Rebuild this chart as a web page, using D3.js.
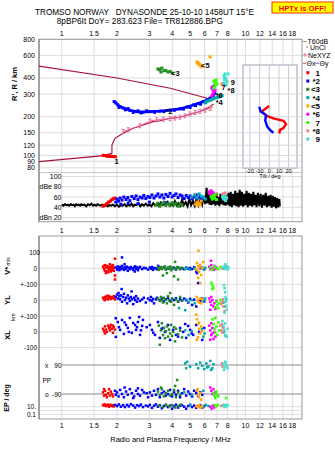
<!DOCTYPE html>
<html><head><meta charset="utf-8">
<script src="https://cdn.jsdelivr.net/npm/d3@7"></script>
<style>body{margin:0;background:#fff}svg{display:block}text{font-family:"Liberation Sans",Arial,sans-serif;fill:#000}</style>
</head><body><svg id="c" width="335" height="451"></svg>
<script>
// ---------- DATA ----------
const title1 = "TROMSO NORWAY   DYNASONDE 25-10-10 1458UT 15°E";
const title2 = "8pBP6It DoY= 283.623 File= TR812886.BPG";
const freqGrid = [1,1.5,2,3,4,5,6,7,8,9,10,12,14,16,18];
const freqLabelsTop = [1,1.5,2,3,4,5,6,7,8,10,12,14,16,18];
const freqLabelsMid = [1,1.5,2,3,4,5,6,7,8,9,10,12,14,16,18];
const rTicks = [800,600,400,300,200,150,120,100,90,80];
const dbTicks = [100,80,60,40,20];
const tiltTicks = [-20,-10,0,10,20];
const modeNames = ["1","*2","<3","*4","<5","*6","7","*8","9"];
const modeColors = ["#ff0000","#0000ff","#228b22","#00a8a8","#ffa500","#ff00ff","#33ff00","#f08080","#40e0d0"];

// top panel: profile lines and traces [f MHz, R km]
const profileUpper = [[0.75,495],[2,400],[3.9,333],[6.2,278]];
const profileLower = [[0.753,89.3],[1.684,99.5],[1.877,103.9],[1.877,120.5],[1.95,135.8],[2.16,148.6],[2.45,162.4],[2.78,172.4],[3.15,182.9],[3.42,186],[3.89,194.4],[4.4,198],[5.66,219],[6.42,239],[6.7,251]];
const neXYZ = [[2.16,153],[2.30,158],[2.66,170],[3.03,185],[3.29,189],[3.57,191],[3.89,193],[4.14,195],[4.4,198],[4.69,203],[4.99,210],[5.32,215],[5.66,220],[6.03,225],[6.43,232]];
const m1Trace = [[1.68,100],[1.72,99.5],[1.76,99],[1.80,98.5],[1.84,98.5],[1.88,98],[1.92,98],[1.96,97.5]];
const m2Trace = [[1.93,262],[1.97,256],[2.02,247],[2.08,239],[2.16,234],[2.26,229],[2.35,224],[2.56,219],[2.77,217],[3.02,219],[3.42,221],[3.89,225],[4.40,230],[4.81,238],[5.21,247],[5.52,253],[5.90,262],[6.19,270],[6.42,278],[6.66,290],[6.82,304]];
const m2Extra = [[2.05,236],[2.22,226],[2.45,216],[2.70,214],[2.90,222],[3.20,216],[3.60,219],[4.10,224],[4.60,229],[5.00,236],[5.35,244],[5.70,250],[6.05,258],[2.30,231],[2.60,222]];
const m3Trace = [[3.34,470],[3.40,468],[3.42,462],[3.51,478],[3.60,455],[3.69,458],[3.79,445],[3.89,450],[3.99,437],[3.47,445]];
const m4Trace = [[6.03,256],[6.13,262],[6.26,265],[6.42,268],[6.50,270],[6.61,274],[6.74,276],[6.90,280],[7.01,282],[7.15,285],[7.28,288],[7.47,292]];
const m5Trace = [[5.45,533],[5.50,525],[5.53,520],[5.59,514],[5.66,505],[5.73,496],[5.80,490],[6.42,583]];
const m6Trace = [[6.57,334],[6.66,322],[6.74,311],[6.66,300],[6.57,290],[6.83,322],[6.74,347],[6.61,340],[6.70,330],[6.78,318]];
const m7Trace = [[6.74,379],[6.83,366],[6.92,386],[6.83,347],[7.01,359],[6.74,334],[6.88,372]];
const m8Trace = [[7.56,353],[6.50,238],[7.45,360]];
const m9Trace = [[7.65,415],[7.75,400],[7.85,386],[7.95,372],[7.65,366],[7.85,353],[8.05,430],[7.75,430],[7.70,390]];
const modeLabelPos = [[1.99,90],[3.84,221],[4.16,437],[7.2,258],[6.05,505],[7.2,296],[7.6,340],[8.35,322],[8.55,372]];

// tilt inset [deg, R km]
const thetaX = [[-0.2,242],[-7.9,219],[-2.7,203],[4.2,194],[14.6,186],[17.4,175],[14.6,163],[11.1,158],[10.4,148]];
const thetaY = [[-10.4,239],[-9.0,219],[-3.4,206],[-4.2,186],[-2.1,167],[0.7,158],[4.2,150]];

// amplitude panel [f, dB]
const noise = [[1.00,45],[1.02,43],[1.04,46],[1.06,44],[1.08,45],[1.10,43],[1.12,46],[1.14,44],[1.16,45],[1.18,42],[1.20,46],[1.22,44],[1.24,45],[1.26,43],[1.28,46],[1.30,44],[1.33,45],[1.36,42],[1.39,46],[1.42,44],[1.45,47],[1.48,43],[1.51,45],[1.54,43],[1.57,46],[1.60,44],[1.63,43],[1.66,45],[1.70,43],[1.74,44],[1.78,42],[1.82,44],[1.86,43],[1.90,45],[1.95,42],[2.00,45],[2.05,41],[2.10,44],[2.15,43],[2.20,46],[2.25,42],[2.30,45],[2.35,43],[2.40,47],[2.45,42],[2.50,45],[2.56,44],[2.62,48],[2.68,42],[2.74,46],[2.80,43],[2.87,47],[2.94,43],[3.01,45],[3.08,42],[3.15,48],[3.22,44],[3.30,46],[3.38,43],[3.46,49],[3.54,44],[3.62,46],[3.70,43],[3.78,50],[3.86,44],[3.95,47],[4.04,43],[4.13,52],[4.22,44],[4.32,48],[4.42,43],[4.52,55],[4.62,44],[4.73,50],[4.84,42],[4.95,56],[5.06,44],[5.18,52],[5.30,43],[5.42,58],[5.55,44],[5.68,54],[5.81,45],[5.95,62],[6.05,46],[6.15,78],[6.22,48],[6.30,66],[6.38,45],[6.46,62],[6.54,44],[6.62,70],[6.70,46],[6.78,64],[6.86,43],[6.95,68],[7.04,45],[7.13,60],[7.22,42],[7.31,66],[7.40,46],[7.50,62],[7.60,44],[7.70,58],[7.80,43],[7.90,64],[8.00,45],[8.10,68],[8.20,42],[8.32,70],[8.44,40],[8.56,66],[8.68,44],[8.80,72],[8.92,42],[9.05,68],[9.18,40],[9.31,74],[9.44,43],[9.58,70],[9.72,41],[9.86,66],[10.0,44],[10.15,72],[10.3,40],[10.45,68],[10.6,43],[10.75,66],[10.9,41],[11.05,70],[11.2,44],[11.35,64],[11.5,40],[11.7,68],[11.9,42],[12.1,66],[12.3,39],[12.5,64],[12.7,43],[12.9,68],[13.1,40],[13.3,62],[13.5,42],[13.7,64],[13.9,39],[14.1,62],[14.3,41],[14.5,60],[14.7,38],[14.9,58],[15.1,40],[15.3,56],[15.4,42]];
const m1dB = [[1.68,42],[1.72,44],[1.76,47],[1.80,50],[1.84,52],[1.88,55],[1.92,57],[1.95,58]];
const m2dB = [[1.97,50],[2.00,56],[2.04,52],[2.08,58],[2.13,54],[2.18,60],[2.24,55],[2.29,59],[2.35,53],[2.41,61],[2.48,57],[2.54,62],[2.60,55],[2.67,60],[2.74,58],[2.80,63],[2.87,57],[2.95,61],[3.02,59],[3.10,64],[3.18,58],[3.26,62],[3.34,66],[3.42,60],[3.51,64],[3.60,58],[3.69,65],[3.79,61],[3.89,67],[3.99,60],[4.09,63],[4.19,66],[4.30,59],[4.41,64],[4.52,62],[4.64,57],[4.76,63],[4.88,59],[5.00,62],[5.13,56],[5.26,60],[5.40,64],[5.53,58],[5.68,61],[5.82,55],[5.97,59],[2.10,46],[2.30,48],[2.60,47],[3.00,50],[3.70,49]];
const m3dB = [[3.26,44],[3.34,48],[3.42,42],[3.51,46],[3.60,50],[3.69,44],[3.79,47],[3.89,43],[3.99,49],[4.09,45],[4.19,48],[4.30,42],[4.41,46],[4.52,44]];
const m4dB = [[5.10,60],[5.30,64],[5.45,58],[5.60,66],[5.75,62],[5.90,59],[6.05,56]];
const m5dB = [[5.35,46],[5.45,50],[5.53,44],[5.60,48],[5.68,45],[5.75,52]];
const m6dB = [[6.35,70],[6.44,66],[6.52,72],[6.61,63],[6.70,68],[6.78,61]];
const m7dB = [[6.52,60],[6.61,56],[6.70,63],[6.78,58],[6.86,65],[6.95,55]];
const m8dB = [[7.55,66],[7.65,62],[7.75,68],[7.85,60]];
const m9dB = [[7.50,60],[7.60,56],[7.70,62],[7.80,53],[7.90,58]];

// V* (m/s)
const m1V = [[1.68,10],[1.70,-5],[1.72,20],[1.72,-15],[1.74,5],[1.76,-20],[1.76,15],[1.79,0],[1.79,-25],[1.81,10],[1.81,-10],[1.83,25],[1.83,-5],[1.85,5],[1.85,-20],[1.88,15],[1.88,-10],[1.90,0],[1.90,20],[1.92,-15],[1.92,5],[1.95,60],[1.95,-45],[1.95,-70],[1.74,-30],[1.70,15]];
const m2V = [[1.97,5],[2.00,-8],[2.02,12],[2.04,0],[2.06,-12],[2.08,8],[2.10,-5],[2.13,15],[2.13,68],[2.16,0],[2.18,-10],[2.21,6],[2.24,-4],[2.27,10],[2.29,-15],[2.32,3],[2.35,-6],[2.38,8],[2.41,0],[2.45,-10],[2.48,5],[2.51,12],[2.54,-3],[2.57,6],[2.60,-12],[2.64,2],[2.67,9],[2.74,-5],[2.80,3],[2.87,0],[2.95,-8],[3.02,5],[3.06,-2],[3.10,8],[3.14,-10],[3.18,2],[3.26,0],[3.30,-6],[3.42,4],[3.51,-3],[3.60,6],[3.69,-5],[3.79,0],[3.89,8],[3.99,-4],[4.09,2],[4.19,-8],[4.30,5],[4.41,-2],[4.52,0],[4.64,-6],[4.76,4],[4.88,-3],[5.00,2],[5.13,-5],[5.26,6],[5.40,-20],[5.53,-92],[5.45,-30],[5.68,0],[5.82,4],[5.97,-6],[2.20,25],[2.50,-20],[3.35,15]];
const m3V = [[3.34,5],[3.38,-10],[3.42,0],[3.47,8],[3.51,-5],[3.56,-45],[3.60,3],[3.65,12],[3.69,-8],[3.74,-30],[3.79,5],[3.84,-3],[3.89,10],[3.94,-12],[3.99,0],[4.04,6],[4.09,-50],[4.14,40],[4.19,-4],[4.24,8],[4.30,-70],[4.36,2],[4.41,-6],[4.52,4]];
const m4V = [[4.70,-3],[4.82,2],[5.00,-8],[5.30,0],[5.90,-5],[6.05,3],[7.60,-2],[7.80,5]];
const m5V = [[5.45,33],[5.53,14],[5.68,21],[5.82,2],[5.60,-23],[5.75,-42],[5.53,-60],[5.68,-92],[5.45,-11],[5.90,39],[5.55,110],[5.62,5],[5.40,-5]];
const m6V = [[6.35,10],[6.44,-5],[6.52,20],[6.61,0],[6.70,-10],[6.78,15],[6.86,-5],[6.50,47],[6.95,5]];
const m7V = [[6.44,5],[6.61,-8],[6.78,12],[6.95,0],[7.13,-5],[7.31,8],[6.52,-90],[6.61,-105],[6.70,-120],[6.61,-130]];
const m8V = [[7.50,-3],[7.95,12]];
const m9V = [[7.60,10],[7.70,-5],[7.80,15],[7.90,0],[8.00,-8],[8.10,5],[7.75,25]];

// YL (km)
const m1YL = [[1.68,15],[1.70,5],[1.72,20],[1.74,10],[1.76,25],[1.79,5],[1.81,15],[1.83,22],[1.85,8],[1.88,18],[1.90,12],[1.92,25],[1.95,5],[1.72,0],[1.79,28]];
const m2YL = [[1.97,20],[2.00,35],[2.02,10],[2.04,45],[2.06,25],[2.08,5],[2.10,30],[2.13,-10],[2.16,20],[2.18,40],[2.21,0],[2.24,15],[2.27,-20],[2.29,30],[2.32,10],[2.35,-5],[2.38,20],[2.41,5],[2.45,-25],[2.48,15],[2.51,0],[2.54,25],[2.57,-10],[2.60,10],[2.67,-5],[2.74,5],[2.80,15],[2.87,-15],[2.95,10],[3.02,0],[3.06,20],[3.10,-5],[3.14,8],[3.18,-20],[3.26,5],[3.30,15],[3.42,0],[3.51,10],[3.60,-8],[3.69,5],[3.79,15],[3.89,-5],[3.99,8],[4.09,0],[4.19,12],[4.30,-10],[4.41,5],[4.52,-3],[4.64,10],[4.76,0],[4.88,-15],[5.00,8],[5.13,-30],[5.26,3],[5.40,-40],[5.53,0],[5.68,-5],[5.82,10],[5.97,-8],[2.12,70],[2.40,55]];
const m3YL = [[3.34,10],[3.42,-5],[3.47,20],[3.51,0],[3.56,-15],[3.60,15],[3.65,5],[3.74,-20],[3.79,25],[3.84,0],[3.89,45],[3.94,-10],[3.99,10],[4.09,-30],[4.19,5],[4.30,-8],[4.41,20],[4.52,0]];
const m4YL = [[4.35,-50],[4.70,-63],[4.76,5],[4.90,-10],[5.10,0],[5.30,-20],[5.90,-5],[6.05,10],[7.60,-15],[7.75,-40],[7.85,5]];
const m5YL = [[5.45,20],[5.53,0],[5.60,-15],[5.68,10],[5.75,-20],[5.82,5],[5.50,-5]];
const m6YL = [[6.35,10],[6.44,-10],[6.52,-30],[6.61,0],[6.70,-40],[6.78,-20],[6.86,-55],[6.52,20],[6.44,-60],[6.95,-5]];
const m7YL = [[6.95,-10],[7.05,-30],[7.13,-50],[7.22,-20],[7.31,0],[6.86,-45]];
const m8YL = [[7.50,-10],[7.60,-40],[7.70,-70],[7.40,-25],[7.55,5]];
const m9YL = [[7.65,95],[7.70,75],[7.75,50],[7.80,20],[7.80,-10],[7.85,-35],[7.90,-60],[7.70,-80],[7.85,5]];

// XL (km)
const m1XL = [[1.68,20],[1.70,5],[1.72,35],[1.74,15],[1.76,0],[1.79,40],[1.81,25],[1.83,10],[1.85,45],[1.88,20],[1.90,-5],[1.92,30],[1.95,15],[1.72,-10],[1.83,30],[1.90,40]];
const m2XL = [[1.97,87],[2.02,63],[2.13,76],[2.24,44],[2.35,89],[2.45,57],[2.54,13],[2.60,63],[2.67,-19],[2.74,38],[2.08,13],[2.18,-13],[2.29,25],[2.41,-6],[2.51,44],[2.64,95],[2.77,76],[1.97,-32],[2.05,30],[2.20,60],[2.32,0],[2.57,30],[2.70,10],[3.02,44],[3.10,13],[3.22,-19],[3.34,63],[3.42,-38],[3.56,25],[3.65,0],[3.79,44],[3.89,-51],[4.04,13],[4.19,-19],[4.41,25],[4.58,0],[4.76,-38],[4.88,38],[5.00,13],[5.20,-19],[5.40,44],[5.60,0],[5.82,-51],[5.97,25],[2.90,30],[3.15,-5],[3.50,20],[4.30,-30],[4.70,50],[5.10,-10]];
const m3XL = [[3.38,40],[3.42,-82],[3.47,10],[3.51,55],[3.56,-20],[3.60,25],[3.65,-40],[3.69,5],[3.74,35],[3.79,-30],[3.84,15],[3.89,-10],[3.94,45],[3.99,-25],[4.04,0],[4.09,30],[4.14,-60],[4.19,20],[4.30,-15],[4.41,8],[4.52,-35]];
const m4XL = [[4.70,10],[4.90,-20],[5.10,5],[5.80,20],[5.90,-30],[6.00,-10],[7.55,30],[7.65,0],[7.80,-25]];
const m5XL = [[5.40,110],[5.45,80],[5.53,50],[5.60,20],[5.68,-10],[5.53,-35],[5.75,35],[5.45,-50],[5.60,60],[5.82,5]];
const m6XL = [[6.35,40],[6.44,10],[6.52,-20],[6.61,25],[6.70,-45],[6.78,0],[6.86,-30],[6.44,-50],[6.52,55],[6.61,-10]];
const m7XL = [[6.61,80],[6.70,50],[6.78,20],[6.86,-5],[6.95,35],[7.05,-20],[7.13,60],[7.22,10],[6.86,90]];
const m8XL = [[7.31,40],[7.40,10],[7.50,-5],[7.60,25],[7.45,50]];
const m9XL = [[7.50,70],[7.60,40],[7.70,10],[7.80,-20],[7.90,-30],[8.00,20],[7.75,55]];

// PP (deg)
const m1PP = [[1.68,-80],[1.70,-100],[1.72,-70],[1.74,-95],[1.76,-110],[1.79,-85],[1.81,-60],[1.83,-100],[1.85,-75],[1.88,-90],[1.90,-105],[1.70,-60]];
const m2PP = [[1.95,-70],[1.97,-95],[2.00,-80],[2.04,-105],[2.08,-65],[2.13,-90],[2.18,-110],[2.24,-75],[2.29,-95],[2.35,-60],[2.41,-85],[2.48,-105],[2.54,-70],[2.60,-90],[2.67,-100],[2.74,-65],[2.80,-80],[2.60,-55],[2.45,-115],[3.02,-80],[3.10,-100],[3.18,-70],[3.26,-95],[3.34,-60],[3.42,-110],[3.51,-85],[3.60,-75],[3.69,-100],[3.79,-90],[3.89,-65],[3.99,-105],[4.09,-80],[4.19,-95],[4.30,-70],[4.41,-110],[4.52,-85],[4.64,-60],[4.76,-100],[4.88,-75],[5.00,-90],[5.13,-105],[5.26,-70],[5.40,-85],[5.53,-100],[5.68,-80],[5.82,-95],[2.20,-50],[2.90,-85],[2.95,-110]];
const m3PP = [[3.34,-75],[3.42,-95],[3.51,-60],[3.60,-105],[3.69,-85],[3.79,-70],[3.89,-100],[3.99,-90],[4.09,-65],[4.19,-110],[4.30,-80],[4.41,-95],[3.47,-50],[4.14,-40],[4.25,-3]];
const m4PP = [[4.70,100],[4.76,70],[4.82,110],[5.00,80],[5.40,95],[5.53,70],[5.68,105],[5.82,85],[5.97,65],[6.13,100],[6.28,80],[6.44,115],[6.61,70],[6.70,95],[6.50,60],[6.20,75],[4.64,-80],[5.10,-95],[5.90,-70]];
const m5PP = [[5.45,-70],[5.53,-95],[5.60,-110],[5.68,-85],[5.75,-125],[5.50,-60]];
const m6PP = [[6.44,-50],[6.52,-70],[6.61,-90],[6.70,-60],[6.86,-80]];
const m7PP = [[6.70,-85],[6.78,-100],[6.86,-115],[6.95,-75],[7.05,-95],[7.13,-105],[7.85,-115]];
const m8PP = [[7.50,80],[7.45,100]];
const m9PP = [[7.60,95],[7.70,75],[7.80,105],[7.90,85],[8.00,70],[7.75,110],[7.65,60]];

// EP (deg)
const m1EP = [[1.68,30],[1.70,20],[1.72,40],[1.74,15],[1.76,25],[1.79,35],[1.81,10],[1.83,20],[1.85,30],[1.88,15],[1.90,25],[1.92,12]];
const m2EP = [[1.95,30],[2.00,15],[2.05,40],[2.10,10],[2.16,25],[2.21,8],[2.27,30],[2.32,12],[2.38,45],[2.45,20],[2.51,6],[2.57,25],[2.64,15],[2.70,35],[2.77,8],[2.87,20],[2.95,12],[3.02,30],[3.10,5],[3.18,18],[3.26,40],[3.34,10],[3.42,25],[3.51,4],[3.60,15],[3.69,30],[3.79,8],[3.89,20],[3.99,3],[4.09,12],[4.19,35],[4.30,6],[4.41,18],[4.52,25],[4.64,10],[4.76,3],[4.88,15],[5.00,30],[5.13,8],[5.26,20],[5.40,5],[5.53,12],[5.68,25],[5.82,6],[5.97,15]];
const m3EP = [[3.40,20],[3.55,8],[3.70,30],[3.85,12],[4.00,25],[4.15,6],[4.30,15],[4.45,35]];
const m4EP = [[5.00,20],[5.90,10],[6.10,30],[6.30,15]];
const m5EP = [[5.40,15],[5.50,8],[5.60,25],[5.70,5],[5.80,12]];
const m6EP = [[6.45,10],[6.55,3],[6.65,20],[6.75,6]];
const m7EP = [[6.80,25],[6.95,12],[7.10,30]];
const m8EP = [[7.40,15],[7.55,30]];
const m9EP = [[7.60,20],[7.70,8],[7.80,30],[7.90,12],[8.00,25]];

// ---------- DRAWING ----------
const modes = [
 {tr:m1Trace,dB:m1dB,V:m1V,YL:m1YL,XL:m1XL,PP:m1PP,EP:m1EP},
 {tr:m2Trace.concat(m2Extra),dB:m2dB,V:m2V,YL:m2YL,XL:m2XL,PP:m2PP,EP:m2EP},
 {tr:m3Trace,dB:m3dB,V:m3V,YL:m3YL,XL:m3XL,PP:m3PP,EP:m3EP},
 {tr:m4Trace,dB:m4dB,V:m4V,YL:m4YL,XL:m4XL,PP:m4PP,EP:m4EP},
 {tr:m5Trace,dB:m5dB,V:m5V,YL:m5YL,XL:m5XL,PP:m5PP,EP:m5EP},
 {tr:m6Trace,dB:m6dB,V:m6V,YL:m6YL,XL:m6XL,PP:m6PP,EP:m6EP},
 {tr:m7Trace,dB:m7dB,V:m7V,YL:m7YL,XL:m7XL,PP:m7PP,EP:m7EP},
 {tr:m8Trace,dB:m8dB,V:m8V,YL:m8YL,XL:m8XL,PP:m8PP,EP:m8EP},
 {tr:m9Trace,dB:m9dB,V:m9V,YL:m9YL,XL:m9XL,PP:m9PP,EP:m9EP}
];

const svg = d3.select("#c");
const L=39, R=302;
const fx = d3.scaleLog().domain([1,16]).range([61.7,282.9]);
const ry = d3.scaleLog().domain([800,80]).range([39.3,167.8]);
const dby = d3.scaleLinear().domain([20,100]).range([217.5,176.5]);
const vy = d3.scaleLinear().domain([-100,100]).range([284.3,252.3]);
const yly = d3.scaleLinear().domain([-100,100]).range([316,284.3]);
const xly = d3.scaleLinear().domain([-100,100]).range([347.6,316.2]);
const ppy = d3.scaleLinear().domain([-90,90]).range([394,365]);
const epy = d3.scaleLog().domain([0.1,10]).range([414.3,406.7]);
const tx = d3.scaleLinear().domain([-20,20]).range([250,288.6]);

const defs = svg.append("defs");
function clip(id,x,y,w,h){defs.append("clipPath").attr("id",id).append("rect").attr("x",x).attr("y",y).attr("width",w).attr("height",h);}
clip("cTop",L,39.3,R-L,133);
clip("cDb",L,173,R-L,48.7);
clip("cBot",L,236,R-L,183);
clip("cIn",243,65,54,103);

const gridC="#dcdcdc";
[[39.3,172],[173,221.7],[236,419]].forEach(([y0,y1])=>{
  svg.append("g").selectAll("line").data(freqGrid).enter().append("line")
   .attr("x1",d=>fx(d)).attr("x2",d=>fx(d)).attr("y1",y0).attr("y2",y1)
   .attr("stroke",gridC).attr("stroke-width",1);
});
svg.append("g").selectAll("line").data(rTicks).enter().append("line")
 .attr("x1",L).attr("x2",R).attr("y1",d=>ry(d)).attr("y2",d=>ry(d)).attr("stroke",gridC);
svg.append("g").selectAll("line").data(dbTicks).enter().append("line")
 .attr("x1",62).attr("x2",R).attr("y1",d=>dby(d)).attr("y2",d=>dby(d)).attr("stroke",gridC);
const rowLines = [vy(100),vy(0),vy(-100),yly(0),yly(-100),xly(0),xly(-100),epy(10),epy(1),epy(0.1)];
svg.append("g").selectAll("line").data(rowLines).enter().append("line")
 .attr("x1",L).attr("x2",R).attr("y1",d=>d).attr("y2",d=>d).attr("stroke","#e2dce2");
[ppy(90),ppy(-90)].forEach(y=>svg.append("line").attr("x1",62).attr("x2",R).attr("y1",y).attr("y2",y).attr("stroke","#8a8a8a"));

svg.append("rect").attr("x",L).attr("y",39.3).attr("width",R-L).attr("height",221.7-39.3).attr("fill","none").attr("stroke","#9a9a9a");
svg.append("line").attr("x1",L).attr("x2",R).attr("y1",172.5).attr("y2",172.5).attr("stroke","#c8c8c8");
svg.append("rect").attr("x",L).attr("y",236).attr("width",R-L).attr("height",183).attr("fill","none").attr("stroke","#9a9a9a");
svg.append("line").attr("x1",L).attr("x2",L).attr("y1",39.3).attr("y2",221.7).attr("stroke","#777");
svg.append("line").attr("x1",L).attr("x2",L).attr("y1",236).attr("y2",419).attr("stroke","#777");

// ---- top panel content
const gTop = svg.append("g").attr("clip-path","url(#cTop)");
const lineFR = d3.line().x(d=>fx(d[0])).y(d=>ry(d[1]));
gTop.append("path").attr("d",lineFR(profileUpper)).attr("fill","none").attr("stroke","#a8103c").attr("stroke-width",1.1);
gTop.append("path").attr("d",lineFR(profileLower)).attr("fill","none").attr("stroke","#a8103c").attr("stroke-width",1.1);
gTop.append("path").attr("d",lineFR(neXYZ)).attr("fill","none").attr("stroke","#e8609a").attr("stroke-width",0.9);
gTop.append("g").selectAll("path").data(neXYZ).enter().append("path")
 .attr("d",d=>{const x=fx(d[0]),y=ry(d[1]);return `M${x-1.5},${y-2}H${x+1.5}M${x},${y-2}V${y+2}M${x-1.5},${y+2}H${x+1.5}`;})
 .attr("stroke","#e8609a").attr("stroke-width",0.9);

gTop.append("path").attr("d",lineFR(m1Trace)).attr("fill","none").attr("stroke",modeColors[0]).attr("stroke-width",3);
gTop.append("path").attr("d",lineFR(m2Trace)).attr("fill","none").attr("stroke",modeColors[1]).attr("stroke-width",2.6);
modes.forEach((m,i)=>{
  gTop.append("g").selectAll("rect").data(m.tr).enter().append("rect")
   .attr("x",d=>fx(d[0])-1.5).attr("y",d=>ry(d[1])-1.5).attr("width",3).attr("height",3).attr("fill",modeColors[i]);
});
gTop.append("g").selectAll("text").data(modeLabelPos).enter().append("text")
 .attr("x",d=>fx(d[0])).attr("y",d=>ry(d[1])+3).attr("text-anchor","middle")
 .attr("font-size",7.5).attr("font-weight","bold").text((d,i)=>modeNames[i]);

// ---- tilt inset
svg.append("rect").attr("x",243).attr("y",65).attr("width",54).attr("height",103).attr("fill","#fff").attr("stroke","#a0a0b0");
const gIn = svg.append("g").attr("clip-path","url(#cIn)");
gIn.selectAll("line.v").data(tiltTicks).enter().append("line")
 .attr("x1",d=>tx(d)).attr("x2",d=>tx(d)).attr("y1",65).attr("y2",168).attr("stroke","#c8c8d4");
gIn.selectAll("line.h").data(rTicks).enter().append("line")
 .attr("x1",243).attr("x2",297).attr("y1",d=>ry(d)).attr("y2",d=>ry(d)).attr("stroke","#d8d8e0");
const lineTR = d3.line().x(d=>tx(d[0])).y(d=>ry(d[1]));
gIn.append("path").attr("d",lineTR(thetaX)).attr("fill","none").attr("stroke","#ff0000").attr("stroke-width",2.4);
gIn.append("path").attr("d",lineTR(thetaY)).attr("fill","none").attr("stroke","#0000ff").attr("stroke-width",2.4);
svg.append("g").selectAll("text").data(tiltTicks).enter().append("text")
 .attr("x",d=>tx(d)).attr("y",172.5).attr("text-anchor","middle").attr("font-size",5.5).text(d=>d);
svg.append("text").attr("x",270).attr("y",177.5).attr("text-anchor","middle").attr("font-size",5.5).text("Tilt / deg");

// ---- dB panel
const gDb = svg.append("g").attr("clip-path","url(#cDb)");
const lineDb = d3.line().x(d=>fx(d[0])).y(d=>dby(d[1]));
gDb.append("path").attr("d",lineDb(noise)).attr("fill","none").attr("stroke","#000").attr("stroke-width",2);
gDb.append("path").attr("d",lineDb(m1dB)).attr("fill","none").attr("stroke",modeColors[0]).attr("stroke-width",2.5);
modes.forEach((m,i)=>{
  gDb.append("g").selectAll("rect").data(m.dB).enter().append("rect")
   .attr("x",d=>fx(d[0])-1.5).attr("y",d=>dby(d[1])-1.5).attr("width",3).attr("height",3).attr("fill",modeColors[i]);
});

// ---- bottom panel scatter
const gBot = svg.append("g").attr("clip-path","url(#cBot)");
function sq(data, ys, col){
  gBot.append("g").selectAll("rect").data(data).enter().append("rect")
   .attr("x",d=>fx(d[0])-1.25).attr("y",d=>ys(d[1])-1.25).attr("width",2.5).attr("height",2.5).attr("fill",col);
}
modes.forEach((m,i)=>{
  sq(m.V,vy,modeColors[i]); sq(m.YL,yly,modeColors[i]); sq(m.XL,xly,modeColors[i]);
  sq(m.PP,ppy,modeColors[i]); sq(m.EP,epy,modeColors[i]);
});

// ---- axis labels
function fLabels(list,y){
  svg.append("g").selectAll("text").data(list).enter().append("text")
   .attr("x",d=>fx(d)).attr("y",y).attr("text-anchor","middle").attr("font-size",7).text(d=>d);
}
fLabels(freqLabelsTop,36);
fLabels(freqLabelsMid,232.5);
fLabels(freqLabelsTop,427.5);
svg.append("g").selectAll("text").data(rTicks).enter().append("text")
 .attr("x",35).attr("y",d=>ry(d)+2.5).attr("text-anchor","end").attr("font-size",7).text(d=>d);
svg.append("g").selectAll("text").data(dbTicks).enter().append("text")
 .attr("x",61.5).attr("y",d=>dby(d)+2.5).attr("text-anchor","end").attr("font-size",7).text(d=>d);
svg.append("text").attr("x",39.5).attr("y",dby(80)+2.5).attr("font-size",7).text("dBe");
svg.append("text").attr("x",39.5).attr("y",dby(20)+2.5).attr("font-size",7).text("dBn");

const rowText = [["100",40,vy(100)],["0",37,vy(0)],["+-100",37,vy(-100)],["0",37,yly(0)],["+-100",37,yly(-100)],["0",37,xly(0)],["-100",37,xly(-100)],["90",61.5,ppy(90)],["-90",61.5,ppy(-90)],["10.",36,epy(10)],["0.1",36,epy(0.1)]];
svg.append("g").selectAll("text").data(rowText).enter().append("text")
 .attr("x",d=>d[1]).attr("y",d=>d[2]+2.5).attr("text-anchor","end").attr("font-size",6.5).text(d=>d[0]);
svg.append("text").attr("x",45).attr("y",ppy(90)+2.5).attr("font-size",6.5).text("x");
svg.append("text").attr("x",45).attr("y",ppy(-90)+2.5).attr("font-size",6.5).text("o");
svg.append("text").attr("x",42.5).attr("y",382.5).attr("font-size",6.5).text("PP");

function vtext(x,y,txt,size,bold){
  return svg.append("text").attr("transform",`translate(${x},${y}) rotate(-90)`).attr("text-anchor","middle")
   .attr("font-size",size).attr("font-weight",bold?"bold":"normal").text(txt);
}
vtext(16.5,84,"R', R / km",7.5,true);
const vt = svg.append("text").attr("transform","translate(9.5,266) rotate(-90)").attr("text-anchor","middle");
vt.append("tspan").attr("font-size",7.5).attr("font-weight","bold").text("V*");
vt.append("tspan").attr("font-size",5).text(" m/s");
vtext(9.5,300,"YL",7.5,true);
vtext(14.5,317,"km",5.5,false);
vtext(9.5,335,"XL",7.5,true);
vtext(8.5,398,"EP / deg",7,true);

svg.append("text").attr("x",170.5).attr("y",441.5).attr("text-anchor","middle").attr("font-size",7.5).text("Radio and Plasma Frequency / MHz");

// ---- titles
svg.append("text").attr("x",35).attr("y",14.5).attr("font-family","DejaVu Sans Mono").attr("font-size",8.2).attr("xml:space","preserve").style("white-space","pre").text(title1);
svg.append("text").attr("x",56.7).attr("y",23.5).attr("font-family","DejaVu Sans Mono").attr("font-size",8.3).style("white-space","pre").text(title2);
svg.append("rect").attr("x",272).attr("y",2).attr("width",61).attr("height",11).attr("fill","#ffff00").attr("stroke","#ff3000").attr("stroke-width",1);
svg.append("text").attr("x",302.5).attr("y",10.5).attr("text-anchor","middle").attr("font-family","DejaVu Sans Mono").attr("font-size",7.6).attr("font-weight","bold").style("fill","#ff0000").text("HPTx is OFF!");

// ---- legend
const lg = svg.append("g");
lg.append("line").attr("x1",302.5).attr("x2",307).attr("y1",41.5).attr("y2",41.5).attr("stroke","#999");
lg.append("text").attr("x",307.5).attr("y",44).attr("font-size",7).text("T60dB");
lg.append("rect").attr("x",306.5).attr("y",46.5).attr("width",1).attr("height",1).attr("fill","#000");
lg.append("text").attr("x",310).attr("y",50).attr("font-size",7).text("UnCl");
lg.append("path").attr("d","M302.5,55H307.5M305,53V57").attr("stroke","#e8609a").attr("stroke-width",0.9);
lg.append("text").attr("x",308).attr("y",57.5).attr("font-size",7).text("NeXYZ");
lg.append("line").attr("x1",302.5).attr("x2",306).attr("y1",63.3).attr("y2",63.3).attr("stroke","#e05050");
lg.append("text").attr("x",306.5).attr("y",65.8).attr("font-size",7).text("Θx");
lg.append("line").attr("x1",315.5).attr("x2",319).attr("y1",63.3).attr("y2",63.3).attr("stroke","#6060e0");
lg.append("text").attr("x",319.5).attr("y",65.8).attr("font-size",7).text("Θy");
modeNames.forEach((n,i)=>{
  const y = 72.7 + i*8.3;
  lg.append("rect").attr("x",306.3).attr("y",y-1.5).attr("width",3).attr("height",3).attr("fill",modeColors[i]);
  lg.append("text").attr("x",320).attr("y",y+3).attr("text-anchor","end").attr("font-size",8).attr("font-weight","bold").text(n);
});
</script></body></html>
